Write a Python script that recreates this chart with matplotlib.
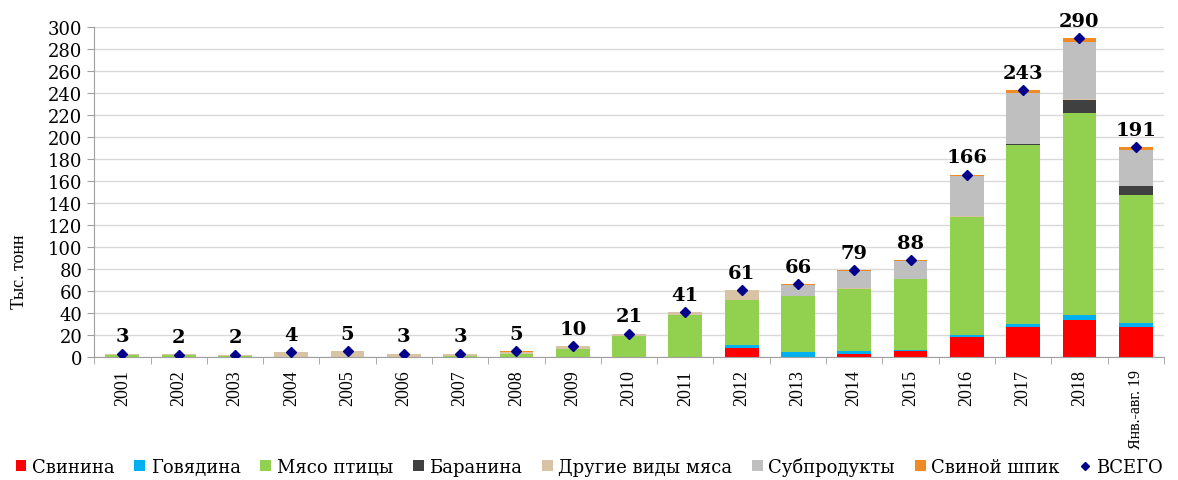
import numpy as np
import matplotlib
matplotlib.use('Agg')
import matplotlib.pyplot as plt
from matplotlib.lines import Line2D
from matplotlib.patches import Patch

plt.rcParams.update({
    'font.family': 'DejaVu Serif',
    'font.size': 13,
})

# ── Данные (тыс. тонн) ────────────────────────────────────────────────
years = ['2001', '2002', '2003', '2004', '2005', '2006', '2007', '2008',
         '2009', '2010', '2011', '2012', '2013', '2014', '2015', '2016',
         '2017', '2018', 'Янв.-авг. 19']

pork    = [0, 0, 0, 0, 0, 0, 0, 0, 0, 0, 0, 8.5, 0, 3, 5, 18, 27, 33.5, 27]
beef    = [0, 0, 0, 0, 0, 0, 0, 0, 0, 0, 0, 2, 4, 2, 1.5, 1.5, 2.5, 4.5, 4]
poultry = [2, 1.5, 1.2, 0, 0, 0, 0.5, 2.5, 7.5, 19, 38, 41, 51, 57, 64, 108, 163, 184, 116.5]
lamb    = [0, 0, 0, 0, 0, 0, 0, 0, 0, 0, 0, 0, 0, 0, 0, 0.3, 1, 12, 8]
other   = [1, 1, 0.8, 4, 5, 3, 2.5, 2, 2, 1.8, 2.5, 9, 0.5, 0.5, 0.5, 0.7, 0.5, 0.5, 0.5]
offal   = [0, 0, 0, 0, 0, 0, 0, 0, 0, 0, 0, 0, 10, 15.5, 16.5, 36, 46.5, 52.5, 32]
lard    = [0, 0, 0, 0, 0, 0, 0, 0.5, 0.5, 0.2, 0.5, 0.5, 0.5, 1, 0.5, 1.5, 2.5, 3, 3]
total   = [3, 2, 2, 4, 5, 3, 3, 5, 10, 21, 41, 61, 66, 79, 88, 166, 243, 290, 191]

series = [
    ('Свинина', pork, '#FF0000'),
    ('Говядина', beef, '#00B0F0'),
    ('Мясо птицы', poultry, '#92D050'),
    ('Баранина', lamb, '#404040'),
    ('Другие виды мяса', other, '#D9C3A5'),
    ('Субпродукты', offal, '#BFBFBF'),
    ('Свиной шпик', lard, '#F08A24'),
]

fig = plt.figure(figsize=(11.78, 4.81), dpi=100)
ax = fig.add_axes([0.080, 0.256, 0.908, 0.685])

x = np.arange(len(years))
bottom = np.zeros(len(years))
for name, vals, color in series:
    vals = np.array(vals, dtype=float)
    ax.bar(x, vals, 0.6, bottom=bottom, color=color, zorder=2)
    bottom += vals

ax.plot(x, total, linestyle='none', marker='D', markersize=5,
        color='#00008B', zorder=4)
for xi, t in zip(x, total):
    ax.annotate(str(t), (xi, t), xytext=(0, 6), textcoords='offset points',
                ha='center', va='bottom', fontsize=14, fontweight='bold',
                annotation_clip=False)

ax.set_xlim(-0.5, len(years) - 0.5)
ax.set_ylim(0, 300)
ax.set_yticks(np.arange(0, 301, 20))
ax.grid(axis='y', color='#D9D9D9', linewidth=1, zorder=0)
ax.set_axisbelow(True)

ax.set_xticks(x)
ax.set_xticklabels(years, rotation=90, family='Liberation Serif', fontsize=13)
ax.get_xticklabels()[-1].set_fontsize(11.5)
ax.set_xticks(np.arange(-0.5, len(years)), minor=True)
ax.tick_params(axis='x', which='major', length=0, pad=9)
ax.tick_params(axis='x', which='minor', length=5, color='#A0A0A0')
ax.tick_params(axis='y', length=5, color='#A0A0A0', labelsize=13)

for s in ['top', 'right']:
    ax.spines[s].set_visible(False)
for s in ['left', 'bottom']:
    ax.spines[s].set_color('#A0A0A0')

ax.set_ylabel('Тыс. тонн', fontsize=13, family='Liberation Serif')
ax.yaxis.set_label_coords(-0.062, 0.26)

handles = [Patch(facecolor=c, edgecolor='none') for _, _, c in series]
labels = [n for n, _, _ in series]
handles.append(Line2D([], [], linestyle='none', marker='D', markersize=4,
                      color='#00008B'))
labels.append('ВСЕГО')
fig.legend(handles, labels, loc='lower center', bbox_to_anchor=(0.5, -0.025),
           ncol=8, frameon=False, fontsize=13, handlelength=0.6,
           handleheight=0.6, handletextpad=0.3, columnspacing=1.1)

fig.savefig('out.png', dpi=100)
